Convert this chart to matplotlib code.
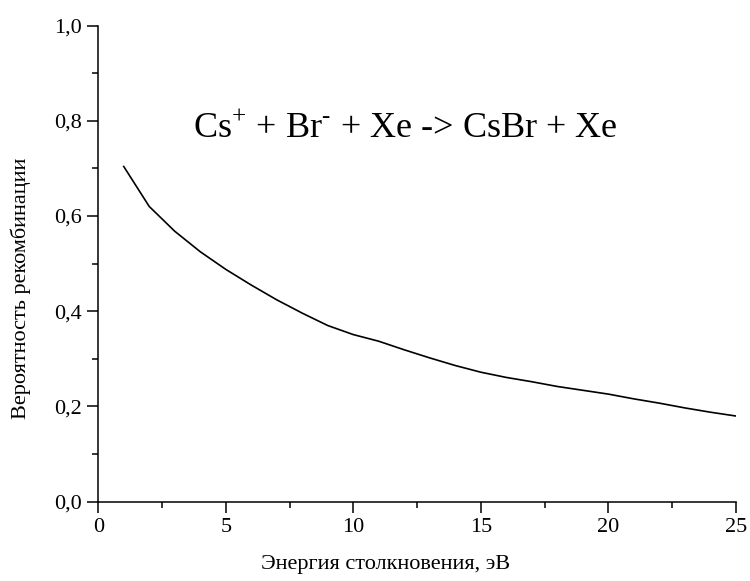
import numpy as np
import matplotlib
matplotlib.use("Agg")
import matplotlib.pyplot as plt
from matplotlib.ticker import MultipleLocator, FuncFormatter

# energy (eV) and recombination probability
energy = [1, 2, 3, 4, 5, 6, 7, 8, 9, 10, 11, 12, 13,
          14, 15, 16, 17, 18, 19, 20, 21, 22, 23, 24, 25]
prob = [0.704, 0.620, 0.568, 0.525, 0.488, 0.455, 0.424, 0.396, 0.370,
        0.351, 0.337, 0.319, 0.302, 0.286, 0.272, 0.261, 0.252, 0.242,
        0.234, 0.226, 0.216, 0.207, 0.197, 0.188, 0.180]

xlabel = "Энергия столкновения, эВ"
ylabel = "Вероятность рекомбинации"
reaction = "Cs$^{\\mathrm{+}}$ + Br$^{\\mathrm{\u2010}}$ + Xe -> CsBr + Xe"

plt.rcParams['font.family'] = ['Liberation Serif', 'DejaVu Serif']
plt.rcParams['mathtext.fontset'] = 'custom'
plt.rcParams['mathtext.rm'] = 'Liberation Serif'

fig = plt.figure(figsize=(7.5, 5.81), dpi=100)
ax = fig.add_axes([0.131, 0.1365, 0.850, 0.8195])

ax.plot(energy, prob, color='black', lw=1.2)

ax.set_xlim(0, 25)
ax.set_ylim(0, 1.0)
ax.spines['top'].set_visible(False)
ax.spines['right'].set_visible(False)
for s in ['left', 'bottom']:
    ax.spines[s].set_linewidth(1.1)

ax.xaxis.set_major_locator(MultipleLocator(5))
ax.xaxis.set_minor_locator(MultipleLocator(2.5))
ax.yaxis.set_major_locator(MultipleLocator(0.2))
ax.yaxis.set_minor_locator(MultipleLocator(0.1))
ax.yaxis.set_major_formatter(FuncFormatter(lambda v, p: ("%.1f" % v).replace('.', ',')))

ax.tick_params(which='major', direction='out', length=8, width=1.1, labelsize=16, pad=4)
ax.tick_params(which='minor', direction='out', length=4, width=1.1)

ax.set_xlabel(xlabel, fontsize=16)
ax.set_ylabel(ylabel, fontsize=16)
ax.xaxis.set_label_coords(0.45, -0.112)
ax.yaxis.set_label_coords(-0.105, 0.449)

ax.text(12.03, 0.764, reaction, fontsize=26, ha='center', va='baseline')

fig.savefig("out.png", dpi=100)
